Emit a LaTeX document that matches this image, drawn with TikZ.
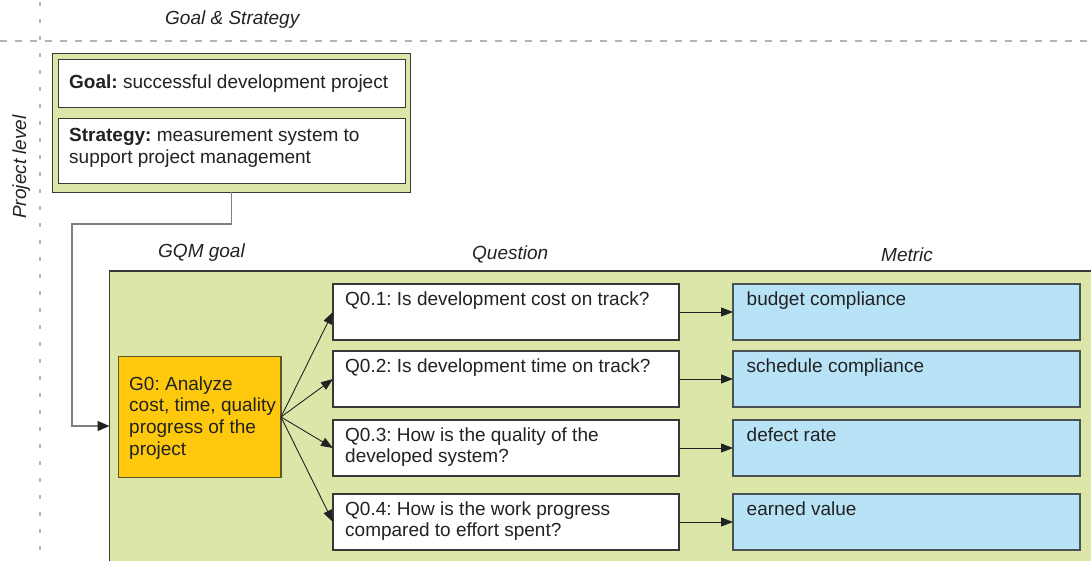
\documentclass[tikz,border=0pt]{standalone}
\usepackage{fontspec}
\setmainfont{Liberation Sans}
\usetikzlibrary{arrows.meta,calc}
\definecolor{gqmgreen}{HTML}{DCE6A8}
\definecolor{mblue}{HTML}{B8E3F7}
\definecolor{gorange}{HTML}{FEC90C}
\definecolor{bordr}{HTML}{383838}
\definecolor{dashgray}{HTML}{B4B4B4}
\definecolor{conngray}{HTML}{7F7F7F}
\definecolor{txtc}{HTML}{222222}
\frenchspacing
\tikzset{
  base/.style={font=\fontsize{19}{21.6}\selectfont, text=txtc},
  hdr/.style={base, font=\fontsize{19}{21.6}\selectfont\itshape, inner sep=0pt},
  txt/.style={base, inner sep=0pt, align=left},
  boxbase/.style={draw=bordr, line width=1.2pt, anchor=north west, inner sep=0pt, outer sep=0pt},
  gbox/.style={boxbase, fill=gqmgreen},
  wbox/.style={boxbase, fill=white},
  obox/.style={boxbase, fill=gorange, draw=bordr!80!gorange},
  mbox/.style={boxbase, fill=mblue, draw=bordr!85!mblue},
  conn/.style={draw=conngray, line width=1.4pt, -{Triangle[length=12pt,width=10pt]}, arrows={[color=txtc]}},
  arr/.style={draw=txtc, line width=0.9pt, -{Triangle[length=12pt,width=9pt]}},
  grid/.style={draw=dashgray, line width=2pt}
}
\begin{document}
\begin{tikzpicture}[x=1pt,y=-1pt]
\useasboundingbox (0,0) rectangle (1091,561);
\begin{scope}
\clip (0,0) rectangle (1091,561);
% grid lines
\draw[grid, dash pattern=on 7pt off 8pt] (0,41.5) -- (1091,41.5);
\draw[grid, dash pattern=on 4pt off 13pt] (39.5,2) -- (39.5,561);
% labels
\node[hdr, anchor=base west] (lgs) at (165,25) {Goal \& Strategy};
\node[hdr, rotate=90, anchor=base] (lpl) at (26,167) {Project level};
\node[hdr, anchor=base west] (lgq) at (158,258) {GQM goal};
\node[hdr, anchor=base west] (lq) at (472,259) {Question};
\node[hdr, anchor=base west] (lm) at (881,261) {Metric};
% goal & strategy
\node[gbox, minimum width=358pt, minimum height=139pt] (outer) at (52.5,53.5) {};
\node[wbox, minimum width=347pt, minimum height=48pt] (goal) at (58.5,59.5) {};
\node[wbox, minimum width=347pt, minimum height=65pt] (strat) at (58.5,118.5) {};
\node[txt, anchor=base west] (goalt) at (69,88.3) {\textbf{Goal:} successful development project};
\node[txt, anchor=north west] (stratt) at (69,126.6) {\strut\textbf{Strategy:} measurement system to\\support project management};
% GQM area
\node[gbox, minimum width=1000pt, minimum height=310pt] (gqm) at (109.5,271) {};
\coordinate (c1) at (72,224);
\coordinate (entry) at (109.5,426);
\draw[conn] (outer.south) |- (c1) |- (entry);
% goal
\node[obox, minimum width=162.5pt, minimum height=121pt] (g0) at (118.5,356.5) {};
\node[txt, anchor=north west] (g0t) at (129,374.9) {\strut G0: Analyze\\cost, time, quality\\progress of the\\project};
% questions
\node[wbox, minimum width=346pt, minimum height=56pt] (q1) at (333,284) {};
\node[wbox, minimum width=346pt, minimum height=56pt] (q2) at (333,351) {};
\node[wbox, minimum width=346pt, minimum height=56pt] (q3) at (333,420) {};
\node[wbox, minimum width=346pt, minimum height=56pt] (q4) at (333,494) {};
\node[txt, anchor=base west] (q1t) at (345,305) {Q0.1: Is development cost on track?};
\node[txt, anchor=base west] (q2t) at (345,372) {Q0.2: Is development time on track?};
\node[txt, anchor=north west] (q3t) at (345,425.9) {\strut Q0.3: How is the quality of the\\developed system?};
\node[txt, anchor=north west] (q4t) at (345,499.9) {\strut Q0.4: How is the work progress\\compared to effort spent?};
% metrics
\node[mbox, minimum width=347pt, minimum height=56pt] (m1) at (733,284) {};
\node[mbox, minimum width=347pt, minimum height=56pt] (m2) at (733,351) {};
\node[mbox, minimum width=347pt, minimum height=56pt] (m3) at (733,420) {};
\node[mbox, minimum width=347pt, minimum height=56pt] (m4) at (733,494) {};
\node[txt, anchor=base west] (m1t) at (746.5,305) {budget compliance};
\node[txt, anchor=base west] (m2t) at (746.5,372) {schedule compliance};
\node[txt, anchor=base west] (m3t) at (746.5,441) {defect rate};
\node[txt, anchor=base west] (m4t) at (746.5,515) {earned value};
% arrows
\foreach \i in {1,2,3,4} {
  \draw[arr] (g0.east) -- (q\i.west);
  \draw[arr] (q\i.east) -- (m\i.west);
}
\end{scope}
\end{tikzpicture}
\end{document}
